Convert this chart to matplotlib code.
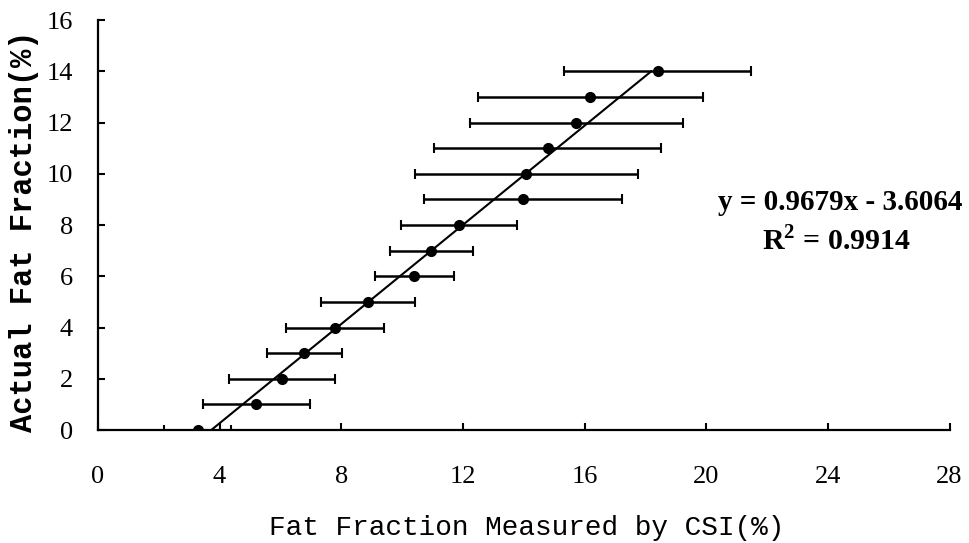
import matplotlib
matplotlib.use("Agg")
import matplotlib.pyplot as plt
import numpy as np

# Data
actual_ff = [0, 1, 2, 3, 4, 5, 6, 7, 8, 9, 10, 11, 12, 13, 14]
csi_ff = [3.28, 5.21, 6.05, 6.79, 7.81, 8.88, 10.40, 10.96, 11.87, 13.98,
          14.09, 14.79, 15.72, 16.19, 18.40]
csi_err = [1.10, 1.75, 1.73, 1.24, 1.61, 1.53, 1.30, 1.36, 1.90, 3.26,
           3.65, 3.73, 3.50, 3.70, 3.08]
slope = 0.9679
intercept = -3.6064
r_squared = 0.9914
x_ticks = [0, 4, 8, 12, 16, 20, 24, 28]
y_ticks = [0, 2, 4, 6, 8, 10, 12, 14, 16]

plt.rcParams['mathtext.fontset'] = 'custom'
plt.rcParams['mathtext.rm'] = 'Liberation Serif:bold'
plt.rcParams['mathtext.bf'] = 'Liberation Serif:bold'

fig = plt.figure(figsize=(9.69, 5.43), dpi=100)
ax = fig.add_axes([0.101, 0.208, 0.879, 0.755])

ax.errorbar(csi_ff, actual_ff, xerr=csi_err, fmt='o', color='black',
            markersize=7, elinewidth=1.8, capsize=3.5, capthick=1.5, zorder=3)

# regression line from y = min to y = max of actual values
y_line = np.array([min(actual_ff), max(actual_ff)])
x_line = (y_line - intercept) / slope
ax.plot(x_line, y_line, color='black', linewidth=1.5, zorder=2)

ax.set_xlim(0, 28)
ax.set_ylim(0, 16)
ax.set_xticks(x_ticks)
ax.set_yticks(y_ticks)
ax.set_xticklabels([str(t) for t in x_ticks], fontfamily='Liberation Serif', fontsize=19)
ax.set_yticklabels([str(t) for t in y_ticks], fontfamily='Liberation Serif', fontsize=19)
ax.tick_params(axis='both', direction='in', length=5, width=1.5)
ax.tick_params(axis='x', pad=26)
ax.tick_params(axis='y', pad=18)

for s in ['top', 'right']:
    ax.spines[s].set_visible(False)
for s in ['left', 'bottom']:
    ax.spines[s].set_linewidth(1.6)

ax.set_xlabel('Fat Fraction Measured by CSI(%)', fontfamily='Liberation Mono',
              fontsize=20, va='center', ha='center')
ax.xaxis.set_label_coords(0.504, -0.239)
ax.set_ylabel('Actual Fat Fraction(%)', fontfamily='Liberation Mono',
              fontsize=22, fontweight='bold', va='center', ha='center')
ax.yaxis.set_label_coords(-0.087, 0.485)

fig.text(840 / 969, 1 - 203 / 543, f'y = {slope:.4f}x - {abs(intercept):.4f}',
         fontfamily='Liberation Serif', fontweight='bold', fontsize=21,
         ha='center', va='center')
fig.text(836 / 969, 1 - 241 / 543, r'$\mathrm{R}^{2}$' + f' = {r_squared:.4f}',
         fontfamily='Liberation Serif', fontweight='bold', fontsize=21.5,
         ha='center', va='center')

fig.savefig('out.png', dpi=100)
